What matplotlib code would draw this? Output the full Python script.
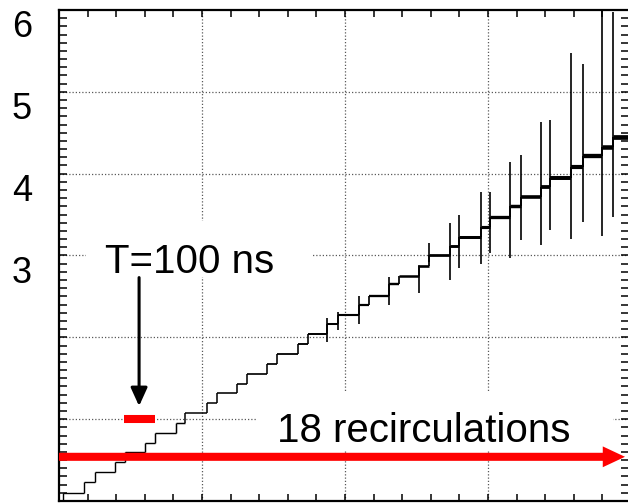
import matplotlib
matplotlib.use("Agg")
import matplotlib.pyplot as plt
from matplotlib.collections import LineCollection
from matplotlib.patches import Rectangle
from matplotlib.ticker import MultipleLocator, NullFormatter

plt.rcParams['font.family'] = ['Liberation Sans', 'DejaVu Sans']

# ---- data ----
step_edges = [0.14, 0.87, 1.26, 1.96, 2.31, 3.01, 3.36, 4.09, 4.41, 5.17, 5.52, 6.22,
              6.57, 7.27, 7.62, 8.36, 8.71, 9.37, 9.76, 10.49, 10.84, 11.54, 11.89,
              12.59, 12.94, 13.67, 13.99, 14.76, 15.07, 15.77, 16.15, 16.85, 17.17,
              17.90, 18.32, 18.99, 19.37, 19.93]
step_levels = [0.10, 0.23, 0.35, 0.48, 0.60, 0.71, 0.83, 0.95, 1.08, 1.20, 1.32, 1.43,
               1.55, 1.67, 1.80, 1.92, 2.04, 2.16, 2.27, 2.40, 2.51, 2.65, 2.75, 2.87,
               3.00, 3.12, 3.23, 3.35, 3.47, 3.61, 3.72, 3.84, 3.95, 4.08, 4.21, 4.33,
               4.45]
spike_x = [9.37, 9.76, 10.49, 11.54, 12.59, 12.94, 13.67, 13.99, 14.76, 15.07, 15.77,
           16.15, 16.85, 17.17, 17.90, 18.32, 18.99, 19.37]
spike_top = [2.24, 2.31, 2.51, 2.74, 2.89, 3.15, 3.40, 3.50, 3.77, 3.77, 4.14, 4.23,
             4.63, 4.65, 5.48, 5.34, 6.00, 5.97]
spike_bot = [1.94, 2.09, 2.16, 2.40, 2.54, 2.92, 2.70, 2.85, 2.90, 3.03, 2.97, 3.19,
             3.13, 3.31, 3.20, 3.41, 3.24, 3.47]
ytick_labels = ["6", "5", "4", "3"]
ytick_values = [6, 5, 4, 3]
period_label = "T=100 ns"
period_bar = (2.27, 3.36)
recirc_label = "18 recirculations"

XMAX, YMAX = 19.93, 6.0

fig = plt.figure(figsize=(6.28, 5.03), dpi=100)
ax = fig.add_axes([59 / 628, 2 / 503, 570 / 628, 491 / 503])
ax.set_xlim(0, XMAX)
ax.set_ylim(0, YMAX)

# grid (dotted)
gkw = dict(color='0.35', lw=0.9, ls=(0, (1, 1.6)), zorder=1)
for gy in [1, 2, 3, 4, 5]:
    ax.axhline(gy, **gkw)
for gx in [5, 10, 15]:
    ax.axvline(gx, **gkw)

# white backgrounds of the text labels (they hide the grid)
ax.add_patch(Rectangle((0.94, 2.74), 7.91, 0.68, facecolor='white', edgecolor='none', zorder=1.5))
ax.add_patch(Rectangle((6.92, 0.62), 12.45, 0.70, facecolor='white', edgecolor='none', zorder=1.5))

# staircase
segs, lws = [], []
n = len(step_levels)
prev = 0.0
for i, lev in enumerate(step_levels):
    x0, x1 = step_edges[i], step_edges[i + 1]
    w = 1.0 + 2.4 * (i / (n - 1)) ** 2.2
    segs.append([(x0, prev), (x0, lev)])
    lws.append(1.0 + 0.4 * (i / (n - 1)))
    segs.append([(x0, lev), (x1, lev)])
    lws.append(w)
    prev = lev
ax.add_collection(LineCollection(segs, colors='black', linewidths=lws, zorder=3,
                                 capstyle='butt'))

# spikes at transitions
ax.vlines(spike_x, spike_bot, spike_top, colors='black', linewidth=1.2, zorder=3)

# y labels
for lab, v in zip(ytick_labels, ytick_values):
    ax.text(-0.94, v - 0.33, lab, ha='right', va='baseline', fontsize=26,
            clip_on=False)

# annotation: T=100 ns
ax.text(1.62, 2.79, period_label, ha='left', va='baseline', fontsize=29, zorder=4)
ax.annotate('', xy=(2.80, 1.16), xytext=(2.80, 2.73),
            arrowprops=dict(arrowstyle='-|>,head_length=11,head_width=5',
                            mutation_scale=1, lw=2.2, color='black',
                            shrinkA=0, shrinkB=0), zorder=4)
ax.plot(period_bar, [1.0, 1.0], color='#ff0000', lw=5.8, solid_capstyle='butt', zorder=4)

# annotation: 18 recirculations
ax.text(7.62, 0.725, recirc_label, ha='left', va='baseline', fontsize=29, zorder=4)
ax.annotate('', xy=(19.79, 0.54), xytext=(0.0, 0.54),
            arrowprops=dict(arrowstyle='simple,head_length=16,head_width=15,tail_width=5.8',
                            mutation_scale=1, lw=0, color='#ff0000',
                            shrinkA=0, shrinkB=0), zorder=4)

# ticks
ax.xaxis.set_major_locator(MultipleLocator(1))
ax.yaxis.set_major_locator(MultipleLocator(0.1))
ax.xaxis.set_major_formatter(NullFormatter())
ax.yaxis.set_major_formatter(NullFormatter())
ax.tick_params(axis='x', which='major', direction='in', length=5, width=1.1,
               top=True, bottom=True)
ax.tick_params(axis='y', which='major', direction='in', length=6, width=1.1,
               left=True, right=True)
for s in ax.spines.values():
    s.set_linewidth(1.6)
ax.spines['right'].set_visible(False)

fig.savefig('out.png', dpi=100)
